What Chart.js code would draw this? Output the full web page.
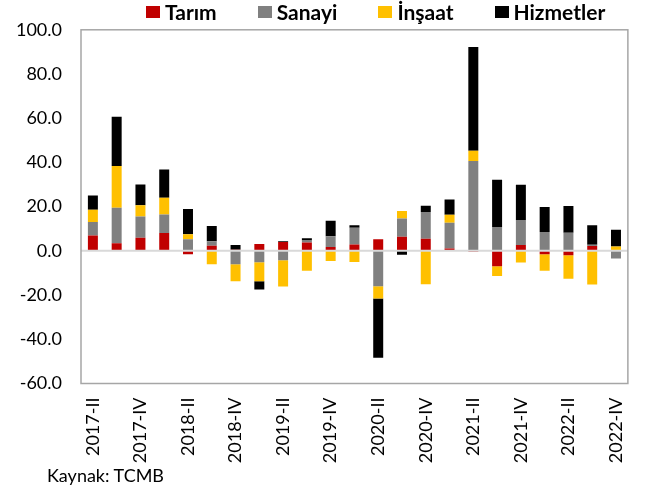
<!DOCTYPE html>
<html>
<head>
<meta charset="utf-8">
<script src="https://cdn.jsdelivr.net/npm/chart.js@4.4.0/dist/chart.umd.min.js"></script>
<style>
  body { margin: 0; background: #fff; }
  #wrap { position: relative; width: 652px; height: 493px; }
  #legend { position: absolute; left: 146px; top: 0px; display: flex; font-family: Lato, sans-serif; font-weight: bold; font-size: 21px; line-height: 24px; color: #000; }
  #legend .item { display: flex; align-items: center; margin-right: 41px; }
  #legend .box { width: 14px; height: 12px; margin-right: 5px; }
  #source { position: absolute; left: 47px; top: 464px; font-family: Lato, sans-serif; font-size: 18px; color: #000; }
</style>
</head>
<body>
<div id="wrap">
  <canvas id="chartGdp" width="652" height="493"></canvas>
  <div id="legend"></div>
  <div id="source">Kaynak: TCMB</div>
</div>
<script>
var labelsQuarter = ['2017-II', '2017-III', '2017-IV', '2018-I', '2018-II', '2018-III', '2018-IV',
    '2019-I', '2019-II', '2019-III', '2019-IV', '2020-I', '2020-II', '2020-III', '2020-IV',
    '2021-I', '2021-II', '2021-III', '2021-IV', '2022-I', '2022-II', '2022-III', '2022-IV'];

var dataTarim     = [6.9, 3.5, 5.9, 8.1, -1.5, 2.3, 0.5, 3.1, 4.0, 3.8, 1.8, 2.9, 5.3, 6.4, 5.5, 1.1, -0.4, -7.0, 2.6, -1.5, -2.0, 2.2, 0.2];
var dataSanayi    = [6.1, 16.0, 9.6, 8.4, 5.3, 2.0, -6.0, -5.1, -4.3, 0.9, 4.8, 7.6, -16.0, 8.2, 12.1, 11.6, 40.7, 10.8, 11.4, 8.5, 8.2, 0.6, -3.5];
var dataInsaat    = [5.6, 18.9, 5.1, 7.5, 2.2, -6.1, -7.7, -8.6, -11.8, -9.0, -4.6, -5.0, -5.6, 3.4, -15.1, 3.6, 4.6, -4.4, -5.3, -7.5, -10.6, -15.2, 1.8];
var dataHizmetler = [6.5, 22.3, 9.4, 12.8, 11.4, 7.0, 2.1, -3.8, 0.4, 1.0, 7.0, 1.1, -26.7, -1.8, 2.8, 6.9, 46.9, 21.4, 15.9, 11.3, 12.1, 8.8, 7.5];

var yMin = -60;
var yMax = 100;
var yStep = 20;

// zero line on top of the bars + frame round the plot area
var frameAndZero = {
    id: 'frameAndZero',
    afterDatasetsDraw: function(chart) {
        var ctx = chart.ctx;
        var area = chart.chartArea;
        var y0 = chart.scales.y.getPixelForValue(0);
        ctx.save();
        ctx.strokeStyle = '#d9d9d9';
        ctx.lineWidth = 2;
        ctx.beginPath();
        ctx.moveTo(area.left, y0);
        ctx.lineTo(area.right, y0);
        ctx.stroke();
        ctx.strokeStyle = '#a6a6a6';
        ctx.lineWidth = 1.5;
        ctx.strokeRect(area.left, area.top, area.right - area.left, area.bottom - area.top);
        ctx.restore();
    }
};

var ctx = document.querySelector('#chartGdp').getContext('2d');
var chart = new Chart(ctx, {
    type: 'bar',
    data: {
        labels: labelsQuarter,
        datasets: [
            { label: 'Tarım', data: dataTarim, backgroundColor: '#C00000' },
            { label: 'Sanayi', data: dataSanayi, backgroundColor: '#808080' },
            { label: 'İnşaat', data: dataInsaat, backgroundColor: '#FFC000' },
            { label: 'Hizmetler', data: dataHizmetler, backgroundColor: '#000000' }
        ]
    },
    options: {
        responsive: false,
        animation: false,
        barPercentage: 0.42,
        categoryPercentage: 1.0,
        layout: { padding: { top: 22, right: 19, bottom: 0, left: 0 } },
        plugins: {
            legend: { display: false },
            tooltip: { enabled: false }
        },
        scales: {
            x: {
                stacked: true,
                grid: { display: false, drawTicks: false },
                border: { display: false },
                ticks: {
                    autoSkip: false,
                    maxRotation: 90,
                    minRotation: 90,
                    padding: 14,
                    color: '#000',
                    font: { family: 'Lato', size: 18 },
                    callback: function(value, index) {
                        return index % 2 === 0 ? labelsQuarter[index] : '';
                    }
                },
                afterFit: function(scale) { scale.height = 109.5; }
            },
            y: {
                stacked: true,
                min: yMin,
                max: yMax,
                grid: { display: false, drawTicks: false },
                border: { display: false },
                ticks: {
                    stepSize: yStep,
                    padding: 19,
                    color: '#000',
                    font: { family: 'Lato', size: 18 },
                    callback: function(value) { return value.toFixed(1); }
                },
                afterFit: function(scale) { scale.width = 81; }
            }
        }
    },
    plugins: [frameAndZero]
});

// legend as html, built from the datasets
var legendBox = document.getElementById('legend');
chart.data.datasets.forEach(function(ds) {
    var item = document.createElement('div');
    item.className = 'item';
    var box = document.createElement('span');
    box.className = 'box';
    box.style.background = ds.backgroundColor;
    var txt = document.createElement('span');
    txt.textContent = ds.label;
    item.appendChild(box);
    item.appendChild(txt);
    legendBox.appendChild(item);
});
</script>
</body>
</html>
